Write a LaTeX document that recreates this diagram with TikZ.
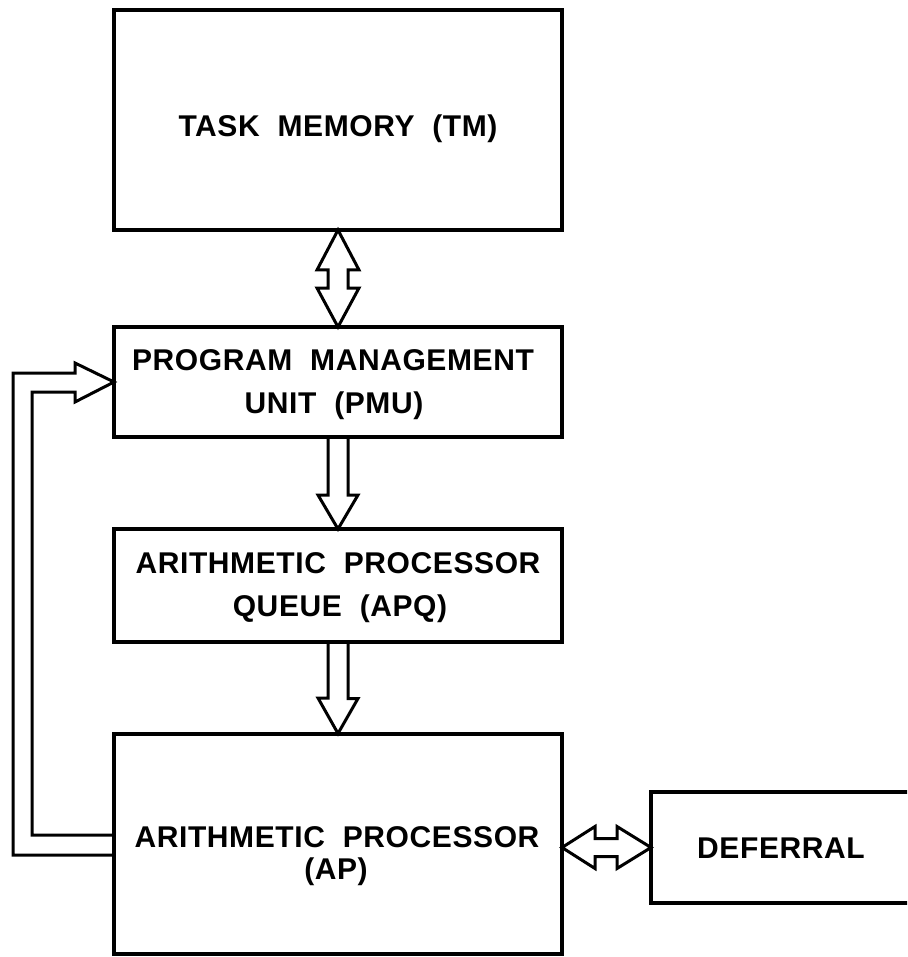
\documentclass[tikz,border=0pt]{standalone}
\usepackage{fontspec}
\setmainfont{Liberation Sans}[LetterSpace=2,WordSpace=2]
\usetikzlibrary{calc}
\begin{document}
\begin{tikzpicture}[x=1pt,y=-1pt,
  box/.style={draw, line width=4pt, rectangle, inner sep=0pt, outer sep=0pt},
  lbl/.style={font=\bfseries\fontsize{30}{36}\selectfont, anchor=base, inner sep=0pt},
  fat/.style={draw, line width=3pt, line join=miter, miter limit=20}]
\useasboundingbox (0,0) rectangle (907,957);
\fill[white] (0,0) rectangle (907,957);
\clip (0,0) rectangle (907,957);
% boxes
\node[box, minimum width=448pt, minimum height=220pt] (tm) at (338,120) {};
\node[box, minimum width=448pt, minimum height=110pt] (pmu) at (338,382) {};
\node[box, minimum width=448pt, minimum height=113pt] (apq) at (338,585.5) {};
\node[box, minimum width=448pt, minimum height=220pt] (ap) at (338,843.5) {};
\node[box, minimum width=264pt, minimum height=111pt] (def) at (783,847.5) {};
% labels
\node[lbl] (tmL) at (338,137) {TASK MEMORY (TM)};
\node[lbl] (pmuL1) at (333,370) {PROGRAM MANAGEMENT};
\node[lbl] (pmuL2) at (334,413) {UNIT (PMU)};
\node[lbl] (apqL1) at (338,573) {ARITHMETIC PROCESSOR};
\node[lbl] (apqL2) at (340,616) {QUEUE (APQ)};
\node[lbl] (apL1) at (337,847) {ARITHMETIC PROCESSOR};
\node[lbl] (apL2) at (336,879) {(AP)};
\node[lbl] (defL) at (781,858) {DEFERRAL};
% TM <-> PMU
\draw[fat] (tm.south) -- ++(21,40) -- ++(-11,0) -- ++(0,18) -- ++(11,0)
  -- (pmu.north) -- ++(-21,-39) -- ++(11,0) -- ++(0,-18) -- ++(-11,0) -- cycle;
% PMU -> APQ
\draw[fat] ($(pmu.south)+(-10,0)$) -- ++(0,58) -- ++(-10,0) -- (apq.north)
  -- ++(20,-34) -- ++(-10,0) -- ($(pmu.south)+(10,0)$);
% APQ -> AP
\draw[fat] ($(apq.south)+(-10,0)$) -- ++(0,56) -- ++(-10,0) -- (ap.north)
  -- ++(20,-35) -- ++(-10,0) -- ($(apq.south)+(10,0)$);
% AP <-> DEFERRAL
\draw[fat] (ap.east |- def.west) -- ++(33,-21) -- ++(0,12) -- ++(22,0) -- ++(0,-12)
  -- (def.west) -- ++(-34,21) -- ++(0,-12) -- ++(-22,0) -- ++(0,12) -- cycle;
% feedback AP -> PMU
\draw[fat] ($(ap.west)+(0,11.5)$) -- ++(-101,0) |- ($(pmu.west)+(-39,-9)$)
  -- ++(0,-10) -- (pmu.west) -- ++(-39,20) -- ++(0,-10) -- ++(-43,0)
  |- ($(ap.west)+(0,-8.5)$);
\end{tikzpicture}
\end{document}
